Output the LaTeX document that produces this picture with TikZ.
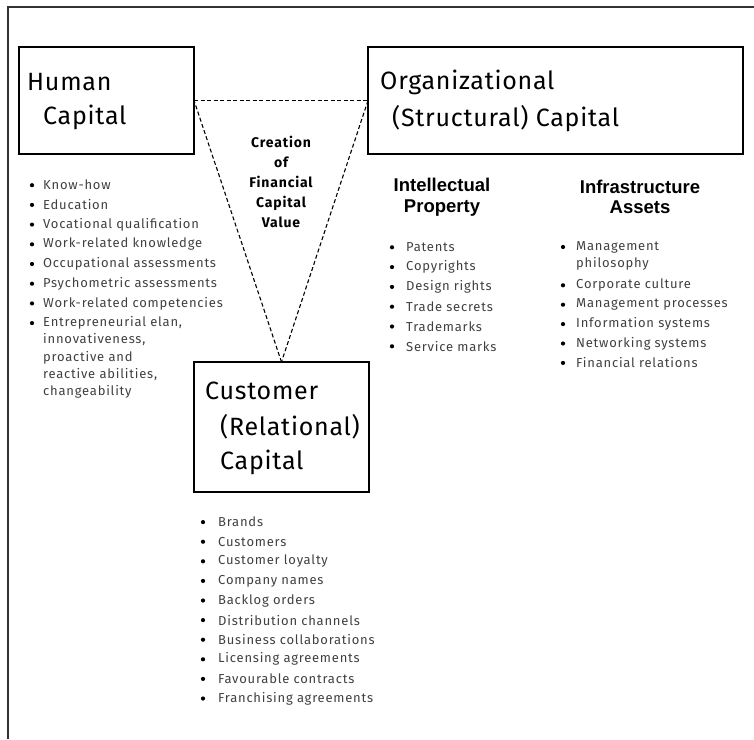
\documentclass[tikz,border=0pt]{standalone}
\usepackage{fontspec}
\setmainfont{Fira Sans}
\newfontfamily\headfont{Liberation Sans}
\newfontfamily\itemfont[LetterSpace=6]{Fira Sans}
\newfontfamily\titlefont[LetterSpace=3]{Fira Sans}
\definecolor{itemgray}{HTML}{404040}
\tikzset{
  capbox/.style={draw,line width=1.2pt,inner sep=0pt,outer sep=0pt},
  captitle/.style={anchor=west,inner sep=0pt,font=\titlefont\fontsize{25}{30}\selectfont},
  entry/.style={anchor=west,inner sep=0pt,text=itemgray,font=\itemfont\fontsize{13}{15}\selectfont},
  dot/.style={circle,fill=black,inner sep=0pt,minimum size=4.2pt},
  heading/.style={align=center,inner sep=0pt,font=\headfont\bfseries\fontsize{18.5}{20.5}\selectfont}
}
\begin{document}
\begin{tikzpicture}[x=1pt,y=-1pt]
  \useasboundingbox (0,0) rectangle (754,739);
  % outer frame, only top and left
  \draw[line width=1.2pt,black!80] (8,739) -- (8,7) -- (754,7);

  % the three capital boxes
  \node[capbox,minimum width=175pt,minimum height=107pt] (human) at (106.5,100.5) {};
  \node[capbox,minimum width=375pt,minimum height=107pt] (org) at (555.5,100.5) {};
  \node[capbox,minimum width=175pt,minimum height=130pt] (cust) at (281.5,427) {};

  \node[captitle] (humanA) at (27,82) {Human};
  \node[captitle] (humanB) at (43,117) {Capital};
  \node[captitle] (orgA) at (380,82) {Organizational};
  \node[captitle] (orgB) at (392,119) {(Structural) Capital};
  \node[captitle] (custA) at (205,391) {Customer};
  \node[captitle] (custB) at (220,427) {(Relational)};
  \node[captitle] (custC) at (220,462) {Capital};

  % value triangle between the boxes
  \begin{scope}[dash pattern=on 4pt off 2.5pt,line width=1.1pt]
    \draw (human.east) -- (org.west);
    \draw (org.west) -- (cust.north);
    \draw (cust.north) -- (human.east);
  \end{scope}
  \node[align=center,inner sep=0pt,font=\itemfont\bfseries\fontsize{14}{19.8}\selectfont] (value) at (281,182)
    {Creation\\of\\Financial\\Capital\\Value};

  % human capital items
  \foreach \t [count=\i] in {Know-how,Education,Vocational qualification,Work-related knowledge,
      Occupational assessments,Psychometric assessments,Work-related competencies,{Entrepreneurial elan,}} {
    \node[dot] (hd\i) at (32,165.5+19.7*\i) {};
    \node[entry] (h\i) at (43,165.5+19.7*\i) {\t};
  }
  \node[entry] (h9) at (43,340) {innovativeness,};
  \node[entry] (h10) at (43,358) {proactive and};
  \node[entry] (h11) at (43,375) {reactive abilities,};
  \node[entry] (h12) at (43,392) {changeability};

  % structural capital
  \node[heading] (ip) at (442,197) {Intellectual\\Property};
  \node[heading] (infra) at (640,197) {Infrastructure\\Assets};
  \foreach \t [count=\i] in {Patents,Copyrights,Design rights,Trade secrets,Trademarks,Service marks} {
    \node[dot] (pd\i) at (392,227.5+19.8*\i) {};
    \node[entry] (p\i) at (406,227.5+19.8*\i) {\t};
  }
  \node[dot] (ad1) at (563,247) {};
  \node[entry] (a1) at (576,247) {Management};
  \node[entry] (a1b) at (576,264) {philosophy};
  \foreach \t [count=\i from 2] in {Corporate culture,Management processes,Information systems,
      Networking systems,Financial relations} {
    \node[dot] (ad\i) at (563,246.5+19.4*\i) {};
    \node[entry] (a\i) at (576,246.5+19.4*\i) {\t};
  }

  % customer capital items
  \foreach \t [count=\i] in {Brands,Customers,Customer loyalty,Company names,Backlog orders,
      Distribution channels,Business collaborations,Licensing agreements,Favourable contracts,
      Franchising agreements} {
    \node[dot] (cd\i) at (203,502.5+19.6*\i) {};
    \node[entry] (c\i) at (218,502.5+19.6*\i) {\t};
  }
\end{tikzpicture}
\end{document}
